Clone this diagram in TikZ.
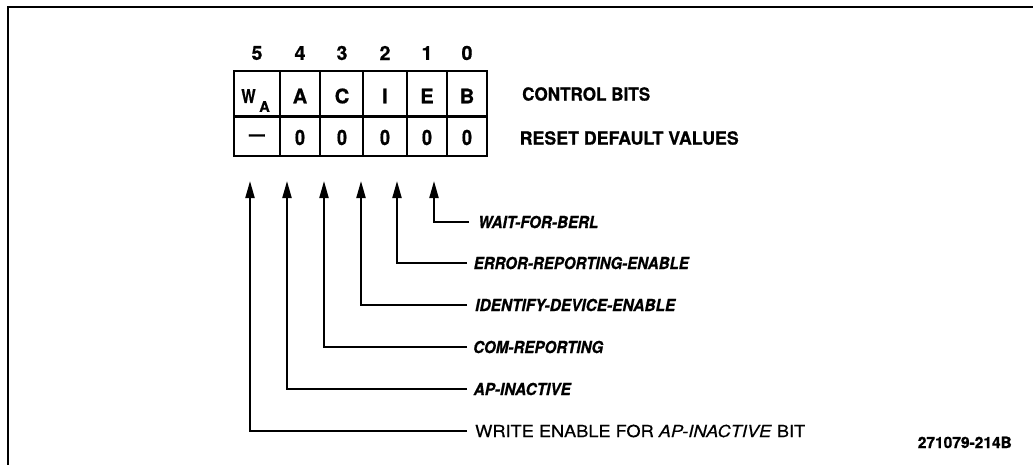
\documentclass[tikz,border=0pt]{standalone}
\usepackage{fontspec}
\setmainfont{TeX Gyre Heros}[BoldFeatures={FakeBold=0.8},BoldItalicFeatures={FakeBold=0.8},UprightFeatures={FakeBold=0.4},ItalicFeatures={FakeBold=0.4}]
\usetikzlibrary{arrows.meta}
\newcommand{\fitw}[2]{\resizebox{#1}{\height}{#2}}
\begin{document}
\begin{tikzpicture}[x=1pt,y=-1pt,
  arr/.style={line width=2pt, -{Triangle[length=17pt,width=9pt]}},
  gridln/.style={line width=2.6pt},
  frameln/.style={line width=2.8pt},
  lab/.style={anchor=west, inner sep=0pt, font=\fontsize{16.5}{16.5}\selectfont\bfseries\itshape},
  hdr/.style={anchor=west, inner sep=0pt, font=\fontsize{18}{18}\selectfont\bfseries},
  num/.style={inner sep=0pt, font=\fontsize{19.5}{20}\selectfont\bfseries},
  cellt/.style={inner sep=0pt, font=\fontsize{20}{20}\selectfont\bfseries},
]
\useasboundingbox (0,0) rectangle (1033,464);
% frame
\draw[frameln] (8,466) -- (8,7) -- (1035,7);
% table
\draw[gridln] (234,71) rectangle (487,156);
\draw[gridln] (234,116.5) -- (487,116.5);
\foreach \xx in {280,320,363,407,447} \draw[gridln] (\xx,71) -- (\xx,156);
% bit numbers
\node[num] (n5) at (257,53) {5};
\node[num] (n4) at (300,53) {4};
\node[num] (n3) at (342,53) {3};
\node[num] (n2) at (385,53) {2};
\node[num] (n1) at (427,53) {1};
\node[num] (n0) at (467,53) {0};
% row 1
\node[inner sep=0pt, font=\fontsize{19}{19}\selectfont\bfseries] (w5) at (248.5,96) {\scalebox{0.8}[1]{W}};
\node[inner sep=0pt, font=\fontsize{14.5}{14.5}\selectfont\bfseries] (w5s) at (264.5,106.5) {A};
\node[cellt] (c4) at (300,96) {A};
\node[cellt] (c3) at (342,96) {C};
\node[cellt] (c2) at (385,96) {I};
\node[cellt] (c1) at (427,96) {E};
\node[cellt] (c0) at (467,96) {B};
% row 2
\node[cellt] (r5) at (257,137.5) {\scalebox{1.4}[1]{–}};
\node[cellt] (r4) at (300,137.5) {\scalebox{0.9}[1.05]{0}};
\node[cellt] (r3) at (342,137.5) {\scalebox{0.9}[1.05]{0}};
\node[cellt] (r2) at (385,137.5) {\scalebox{0.9}[1.05]{0}};
\node[cellt] (r1) at (427,137.5) {\scalebox{0.9}[1.05]{0}};
\node[cellt] (r0) at (467,137.5) {\scalebox{0.9}[1.05]{0}};
% headers
\node[hdr] (hc) at (522,94) {\fitw{128pt}{CONTROL BITS}};
\node[hdr] (hr) at (519.5,138) {\fitw{219pt}{RESET DEFAULT VALUES}};
% arrow tips
\coordinate (t5) at (250,181);
\coordinate (t4) at (287,181);
\coordinate (t3) at (324,181);
\coordinate (t2) at (361,181);
\coordinate (t1) at (397,181);
\coordinate (t0) at (434,181);
% line ends
\coordinate (e0) at (469,222);
\coordinate (e1) at (467,263);
\coordinate (e2) at (467,305);
\coordinate (e3) at (467,347);
\coordinate (e4) at (467,389);
\coordinate (e5) at (467,431);
% labels
\node[lab] (l0) at (478,222) {\fitw{120pt}{WAIT-FOR-BERL}};
\node[lab] (l1) at (473.5,263) {\fitw{215pt}{ERROR-REPORTING-ENABLE}};
\node[lab] (l2) at (475,305) {\fitw{200pt}{IDENTIFY-DEVICE-ENABLE}};
\node[lab] (l3) at (473,347) {\fitw{130pt}{COM-REPORTING}};
\node[lab] (l4) at (473.5,389) {\fitw{97pt}{AP-INACTIVE}};
\node[anchor=west, inner sep=0pt, font=\fontsize{16.5}{16.5}\selectfont] (l5) at (475,431) {\fitw{330pt}{WRITE ENABLE FOR \textit{AP-INACTIVE} BIT}};
% connectors
\draw[arr] (e0) -| (t0);
\draw[arr] (e1) -| (t1);
\draw[arr] (e2) -| (t2);
\draw[arr] (e3) -| (t3);
\draw[arr] (e4) -| (t4);
\draw[arr] (e5) -| (t5);
% figure number
\node[anchor=base east, inner sep=0pt, font=\fontsize{15.5}{15.5}\selectfont\bfseries] (fig) at (1012,448) {\fitw{94pt}{271079-214B}};
\end{tikzpicture}
\end{document}
